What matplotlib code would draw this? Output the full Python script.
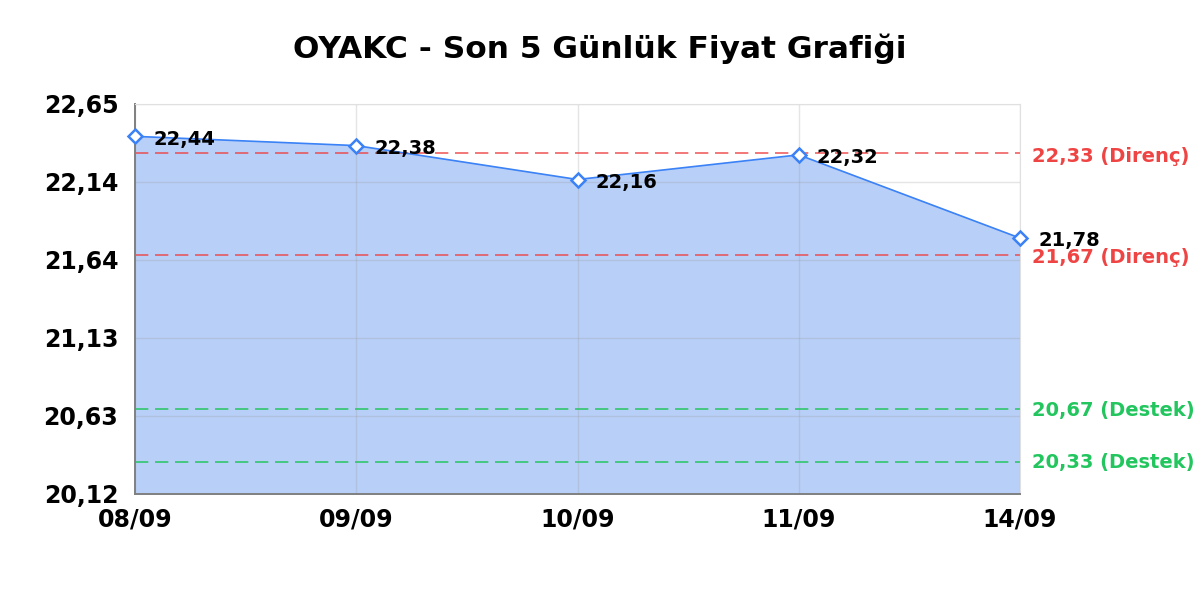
import matplotlib
matplotlib.use('Agg')
import matplotlib.pyplot as plt
import numpy as np

dates = ['08/09', '09/09', '10/09', '11/09', '14/09']
prices = [22.44, 22.38, 22.16, 22.32, 21.78]
resistance = [22.33, 21.67]
support = [20.67, 20.33]
y_min, y_max = 20.12, 22.65

line_col = '#3b82f6'
fill_col = '#b8cff8'
red_col = '#ef4444'
green_col = '#22c55e'

fig = plt.figure(figsize=(12, 6), dpi=100, facecolor='white')
ax = fig.add_axes([0.1125, 0.1767, 0.7375, 0.65])

x = np.arange(len(dates))
ax.fill_between(x, y_min, prices, color=fill_col, zorder=1)
ax.plot(x, prices, color=line_col, linewidth=1.2, zorder=3)
ax.plot(x, prices, linestyle='none', marker='D', markersize=7,
        markerfacecolor='white', markeredgecolor=line_col,
        markeredgewidth=1.8, zorder=4, clip_on=False)

# etichette dei prezzi
for xi, p in zip(x, prices):
    ax.annotate(f'{p:.2f}'.replace('.', ','), xy=(xi, p), xytext=(13, -2),
                textcoords='offset points', ha='left', va='center',
                fontsize=14, fontweight='bold', color='black', zorder=5,
                annotation_clip=False)

# livelli di direnç / destek
for lvl in resistance:
    ax.axhline(lvl, color=red_col, linestyle=(0, (8, 4)), linewidth=1.2,
               alpha=0.85, zorder=2)
    ax.annotate(f'{lvl:.2f} (Direnç)'.replace('.', ','), xy=(1, lvl),
                xycoords=('axes fraction', 'data'), xytext=(9, -2),
                textcoords='offset points', ha='left', va='center',
                fontsize=14, fontweight='bold', color=red_col)
for lvl in support:
    ax.axhline(lvl, color=green_col, linestyle=(0, (8, 4)), linewidth=1.2,
               alpha=0.9, zorder=2)
    ax.annotate(f'{lvl:.2f} (Destek)'.replace('.', ','), xy=(1, lvl),
                xycoords=('axes fraction', 'data'), xytext=(9, -1),
                textcoords='offset points', ha='left', va='center',
                fontsize=14, fontweight='bold', color=green_col)

ax.set_xlim(0, len(dates) - 1)
ax.set_ylim(y_min, y_max)
yticks = np.linspace(y_min, y_max, 6)
ax.set_yticks(yticks)
ax.set_yticklabels([f'{v:.2f}'.replace('.', ',') for v in yticks])
ax.set_xticks(x)
ax.set_xticklabels(dates)
ax.tick_params(length=0, labelsize=17)
ax.tick_params(axis='y', pad=12)
ax.tick_params(axis='x', pad=10)
for lab in ax.get_xticklabels() + ax.get_yticklabels():
    lab.set_fontweight('bold')

ax.grid(True, color='#999999', alpha=0.25, linewidth=1, zorder=1.5)
for side in ['top', 'right']:
    ax.spines[side].set_color('#e0e0e0')
for side in ['left', 'bottom']:
    ax.spines[side].set_color('#808080')
    ax.spines[side].set_linewidth(1.4)

fig.suptitle('OYAKC - Son 5 Günlük Fiyat Grafiği', fontsize=22.5,
             fontweight='bold', y=0.945)

plt.savefig('out.png', dpi=100, facecolor='white')
plt.close()
